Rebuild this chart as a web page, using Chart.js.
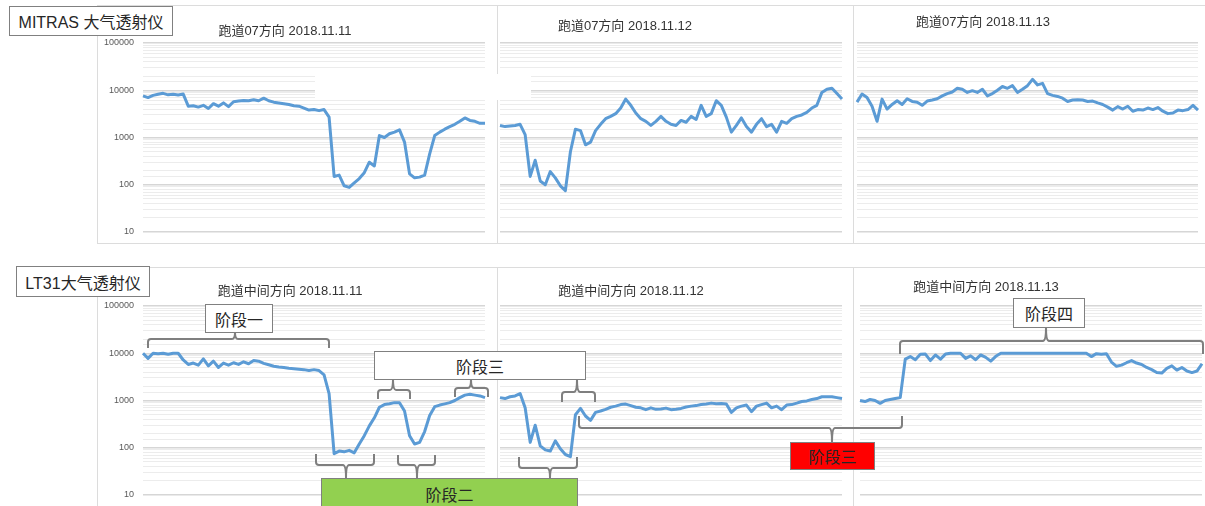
<!DOCTYPE html>
<html>
<head>
<meta charset="utf-8">
<script src="https://cdn.jsdelivr.net/npm/chart.js@4.4.1/dist/chart.umd.min.js"></script>
<style>
  body { margin: 0; background: #fff; }
  #page {
    position: relative; width: 1205px; height: 506px; overflow: hidden;
    font-family: "Liberation Sans", "Noto Sans CJK SC", sans-serif;
  }
  .abs { position: absolute; }
  .frame { position: absolute; background: #dcdcdc; }
  .title {
    position: absolute; transform: translate(-50%, -50%); white-space: nowrap;
    font-size: 13px; color: #333;
  }
  .box {
    position: absolute; box-sizing: border-box; border: 1px solid #808080; background: #fff;
    display: flex; align-items: center; justify-content: center;
    font-size: 16px; color: #262626; white-space: nowrap;
  }
  canvas { position: absolute; }
</style>
</head>
<body>
<div id="page">
  <!-- panel frames -->
  <div class="frame" style="left:97px;top:5px;width:1108px;height:1px"></div>
  <div class="frame" style="left:97px;top:243px;width:1108px;height:1px"></div>
  <div class="frame" style="left:97px;top:5px;width:1px;height:238px"></div>
  <div class="frame" style="left:497px;top:5px;width:1px;height:238px"></div>
  <div class="frame" style="left:853px;top:5px;width:1px;height:238px"></div>
  <div class="frame" style="left:97px;top:267px;width:1108px;height:1px"></div>
  <div class="frame" style="left:97px;top:267px;width:1px;height:239px"></div>
  <div class="frame" style="left:497px;top:267px;width:1px;height:239px"></div>
  <div class="frame" style="left:853px;top:267px;width:1px;height:239px"></div>

  <canvas id="t1"></canvas>
  <canvas id="t2"></canvas>
  <canvas id="t3"></canvas>
  <canvas id="b1"></canvas>
  <canvas id="b2"></canvas>
  <canvas id="b3"></canvas>

  <!-- white patch covering gridlines, as in the source image -->
  <div class="abs" style="left:315px;top:74px;width:216px;height:26px;background:#fff"></div>

  <div class="title" style="left:285px;top:29px">跑道07方向 2018.11.11</div>
  <div class="title" style="left:625px;top:24px">跑道07方向 2018.11.12</div>
  <div class="title" style="left:983px;top:20px">跑道07方向 2018.11.13</div>
  <div class="title" style="left:290px;top:289px">跑道中间方向 2018.11.11</div>
  <div class="title" style="left:631px;top:289px">跑道中间方向 2018.11.12</div>
  <div class="title" style="left:986px;top:285px">跑道中间方向 2018.11.13</div>

  <div class="box" style="left:9px;top:6px;width:164px;height:30px">MITRAS 大气透射仪</div>
  <div class="box" style="left:16px;top:266px;width:134px;height:31px">LT31大气透射仪</div>

  <svg id="brackets" class="abs" style="left:0;top:0" width="1205" height="506"></svg>

  <div class="box" style="left:205px;top:304px;width:68px;height:29px">阶段一</div>
  <div class="box" style="left:374px;top:351px;width:212px;height:29px">阶段三</div>
  <div class="box" style="left:321px;top:478px;width:257px;height:31px;background:#92d050;align-items:flex-start;padding-top:3px">阶段二</div>
  <div class="box" style="left:790px;top:442px;width:85px;height:28px;background:#ff0000">阶段三</div>
  <div class="box" style="left:1013px;top:298px;width:72px;height:30px">阶段四</div>
</div>

<script>
// MITRAS, runway 07 direction, visibility-like values per sample
const mitras1111 = [7600, 7000, 7800, 8200, 8600, 8000, 8200, 7900, 8300, 4600,
  4700, 4400, 4800, 4100, 5200, 4600, 5400, 4500, 5700, 5900,
  6100, 6000, 6300, 6000, 6800, 6000, 5600, 5400, 5200, 5000,
  4700, 4600, 4200, 3800, 3900, 3700, 3900, 2700, 150, 160,
  95, 88, 110, 135, 180, 300, 250, 1100, 1000, 1200,
  1300, 1450, 800, 170, 140, 145, 160, 450, 1100, 1300,
  1500, 1700, 1900, 2200, 2600, 2300, 2200, 2000, 2000];
const mitras1112 = [1800, 1700, 1750, 1800, 1900, 1150, 150, 330, 120, 100,
  190, 140, 95, 75, 500, 1500, 1400, 700, 800, 1400,
  1900, 2500, 2800, 3200, 4200, 6500, 4800, 3300, 2500, 2200,
  1800, 2200, 2800, 2200, 1900, 1800, 2300, 2100, 2800, 2400,
  4800, 2800, 3200, 6000, 4800, 2700, 1300, 1800, 2600, 1700,
  1300, 1900, 2500, 1700, 1900, 1300, 2200, 2000, 2500, 2800,
  3000, 3400, 4200, 4800, 9000, 10500, 11000, 8500, 6500];
const mitras1113 = [5600, 8300, 7000, 4600, 2200, 6500, 4000, 5000, 6000, 5000,
  6600, 5800, 5600, 4800, 5900, 6200, 6600, 7600, 8500, 9200,
  11000, 10500, 9000, 9800, 9000, 10500, 7600, 8500, 10000, 12000,
  11000, 12500, 9000, 10500, 12500, 17000, 13000, 14000, 8500, 7800,
  7400, 6800, 5800, 6200, 6300, 6200, 5800, 5900, 5400, 5000,
  4400, 3800, 4500, 4000, 4600, 3600, 3900, 3800, 4200, 3900,
  4300, 3600, 3200, 3300, 3800, 3700, 3900, 4800, 3800];

// LT31, runway middle direction
const lt1111 = [10000, 7800, 10000, 9800, 10000, 9500, 10000, 10000, 7200, 5800,
  6200, 5600, 7600, 5400, 6800, 5000, 6200, 5600, 6300, 5800,
  6600, 6000, 7000, 6800, 6100, 5700, 5300, 5100, 5000, 4800,
  4700, 4600, 4500, 4300, 4500, 4300, 3500, 1400, 75, 85,
  82, 88, 78, 120, 180, 290, 430, 720, 820, 850,
  900, 900, 600, 180, 120, 130, 220, 480, 740, 800,
  850, 900, 1000, 1150, 1300, 1350, 1300, 1250, 1150];
const lt1112 = [1150, 1100, 1200, 1250, 1400, 700, 130, 300, 110, 90,
  85, 140, 95, 72, 65, 500, 680, 470, 380, 560,
  600, 650, 720, 760, 820, 840, 780, 720, 700, 640,
  700, 650, 660, 690, 640, 650, 680, 730, 760, 780,
  820, 840, 880, 850, 860, 840, 560, 700, 760, 800,
  580, 760, 820, 880, 700, 760, 640, 800, 820, 880,
  950, 980, 1050, 1100, 1200, 1200, 1200, 1150, 1100];
const lt1113 = [1000, 950, 1050, 1000, 870, 1000, 1050, 1100, 1150, 7500,
  8500, 7300, 9500, 9600, 7000, 9200, 7500, 9600, 10000, 10000,
  10000, 7800, 8800, 7300, 9200, 8200, 6800, 8600, 10000, 10000,
  10000, 10000, 10000, 10000, 10000, 10000, 10000, 10000, 10000, 10000,
  10000, 10000, 10000, 10000, 10000, 10000, 8500, 9800, 9500, 9800,
  6500, 5300, 5600, 6300, 7000, 6200, 5800, 5000, 4500, 3900,
  3800, 4800, 5400, 4400, 5000, 4200, 3900, 4200, 6000];

const yMin = 10;
const yMax = 100000;
const yTickLabels = [10, 100, 1000, 10000, 100000];

document.addEventListener("DOMContentLoaded", function () {
  const AXIS_W = 45;
  const PAD = 8;

  // plot-area rectangles: [left, top, width, height]
  const panels = [
    { id: "t1", data: mitras1111, area: [143, 43, 342, 189], ticks: true },
    { id: "t2", data: mitras1112, area: [500, 43, 342, 189], ticks: false },
    { id: "t3", data: mitras1113, area: [857, 43, 341, 189], ticks: false },
    { id: "b1", data: lt1111, area: [143, 306, 342, 189], ticks: true },
    { id: "b2", data: lt1112, area: [500, 306, 342, 189], ticks: false },
    { id: "b3", data: lt1113, area: [860, 306, 342, 189], ticks: false },
  ];

  function isDecade(v) {
    return yTickLabels.includes(Math.round(v));
  }

  // decade labels drawn next to the plot area from the y scale
  const decadeLabels = {
    id: "decadeLabels",
    afterDraw(chart, args, opts) {
      if (!opts.show) return;
      const ctx = chart.ctx;
      const y = chart.scales.y;
      ctx.save();
      ctx.font = '9px "Liberation Sans"';
      ctx.fillStyle = "#595959";
      ctx.textAlign = "right";
      ctx.textBaseline = "middle";
      yTickLabels.forEach(function (v) {
        ctx.fillText(String(v), chart.chartArea.left - 9, y.getPixelForValue(v));
      });
      ctx.restore();
    },
  };

  panels.forEach(function (p) {
    const canvas = document.getElementById(p.id);
    const left = p.ticks ? AXIS_W : PAD;
    canvas.width = p.area[2] + left + PAD;
    canvas.height = p.area[3] + 2 * PAD;
    canvas.style.left = p.area[0] - left + "px";
    canvas.style.top = p.area[1] - PAD + "px";

    new Chart(canvas.getContext("2d"), {
      type: "line",
      data: {
        labels: p.data.map((_, i) => i),
        datasets: [
          {
            data: p.data,
            borderColor: "#5b9bd5",
            borderWidth: 3,
            borderJoinStyle: "round",
            pointRadius: 0,
            tension: 0,
            fill: false,
          },
        ],
      },
      options: {
        responsive: false,
        animation: false,
        layout: { padding: { left: left, right: PAD, top: PAD, bottom: PAD } },
        plugins: {
          legend: { display: false },
          tooltip: { enabled: false },
          decadeLabels: { show: p.ticks },
        },
        scales: {
          x: { display: false },
          y: {
            type: "logarithmic",
            min: yMin,
            max: yMax,
            afterFit: function (s) {
              s.width = 0;
            },
            border: { display: false },
            grid: {
              drawTicks: false,
              color: (ctx) => (isDecade(ctx.tick.value) ? "#d6d6d6" : "#ececec"),
              lineWidth: (ctx) => (isDecade(ctx.tick.value) ? 1.5 : 1),
            },
            ticks: { display: false, autoSkip: false },
          },
        },
      },
      plugins: [decadeLabels],
    });
  });

  // stage brackets (annotation layer)
  const svg = document.getElementById("brackets");
  const r = 3;
  function bracket(x1, x2, y, h, xm, tip) {
    // h > 0: ends go down, tick goes up to tip; h < 0: the reverse
    const s = h > 0 ? 1 : -1;
    return (
      `M${x1},${y + h} L${x1},${y + s * r} Q${x1},${y} ${x1 + r},${y} ` +
      `L${xm - r},${y} Q${xm},${y} ${xm},${tip} Q${xm},${y} ${xm + r},${y} ` +
      `L${x2 - r},${y} Q${x2},${y} ${x2},${y + s * r} L${x2},${y + h}`
    );
  }
  const brackets = [
    [148, 329, 339, 9, 235, 332],
    [378, 410, 390, 9, 393, 379],
    [455, 488, 388, 9, 471, 379],
    [562, 595, 392, 10, 577, 379],
    [316, 374, 465, -11, 346, 478],
    [398, 435, 465, -10, 417, 478],
    [519, 577, 468, -11, 550, 478],
    [579, 902, 428, -12, 832, 442],
    [900, 1203, 341, 13, 1046, 327],
  ];
  brackets.forEach(function (b) {
    const path = document.createElementNS("http://www.w3.org/2000/svg", "path");
    path.setAttribute("d", bracket(...b));
    path.setAttribute("fill", "none");
    path.setAttribute("stroke", "#7f7f7f");
    path.setAttribute("stroke-width", "2");
    svg.appendChild(path);
  });
});
</script>
</body>
</html>
